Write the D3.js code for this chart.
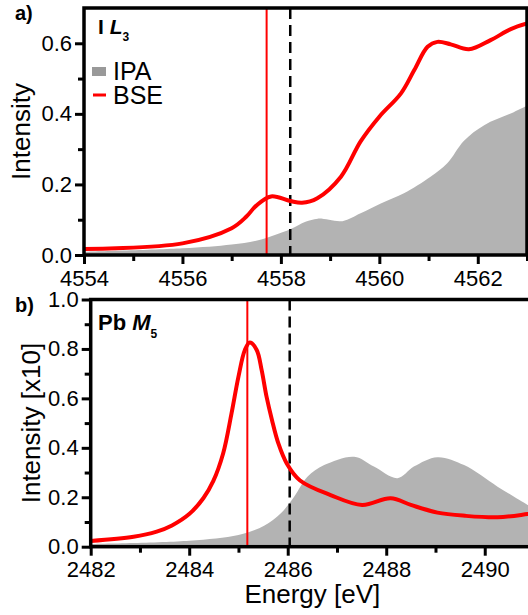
<!DOCTYPE html>
<html>
<head>
<meta charset="utf-8">
<script src="https://cdn.jsdelivr.net/npm/d3@7"></script>
<style>
  body { margin: 0; background: #fff; }
  svg { display: block; font-family: "Liberation Sans", Arial, sans-serif; }
  .tick text { font-size: 22px; fill: #000; }
</style>
</head>
<body>
<svg id="chart"></svg>
<script>
// panel a) I L3
var energyA = [4554, 4556, 4557, 4557.3, 4557.5, 4557.8, 4558.19, 4558.43, 4558.74, 4559.22, 4559.62,
  4560.0, 4560.44, 4560.71, 4560.98, 4561.18, 4561.45, 4561.82, 4562.26, 4562.67, 4563];
var bseA = [0.017, 0.033, 0.076, 0.109, 0.14, 0.166, 0.153, 0.148, 0.161, 0.222, 0.322,
  0.392, 0.458, 0.524, 0.590, 0.604, 0.597, 0.583, 0.609, 0.640, 0.656];
var ipaEnergyA = [4554, 4556, 4557, 4557.54, 4558.19, 4558.5, 4558.75, 4559.25, 4559.62, 4560.03,
  4560.5, 4561.04, 4561.38, 4561.72, 4562.13, 4562.67, 4563];
var ipaA = [0.009, 0.019, 0.03, 0.042, 0.073, 0.094, 0.103, 0.096, 0.118, 0.146,
  0.175, 0.222, 0.260, 0.324, 0.368, 0.401, 0.423];
var xTicksA = [4554, 4556, 4558, 4560, 4562];
var xMinorA = [4555, 4557, 4559, 4561, 4563];
var yTicksA = [0.0, 0.2, 0.4, 0.6];
var yMinorA = [0.1, 0.3, 0.5];
var linesA = { solid: 4557.71, dashed: 4558.19 };

// panel b) Pb M5
var energyB = [2482, 2482.87, 2483.34, 2483.65, 2484.0, 2484.29, 2484.49, 2484.69, 2484.86, 2485.0,
  2485.13, 2485.23, 2485.37, 2485.47, 2485.57, 2485.68, 2485.81, 2485.98, 2486.25, 2486.87,
  2487.51, 2488.09, 2488.5, 2489.04, 2489.6, 2490.26, 2490.87, 2491];
var bseB = [0.023, 0.040, 0.061, 0.086, 0.132, 0.197, 0.266, 0.378, 0.540, 0.688,
  0.796, 0.826, 0.796, 0.715, 0.607, 0.513, 0.418, 0.337, 0.268, 0.209,
  0.169, 0.196, 0.169, 0.138, 0.125, 0.119, 0.132, 0.135];
var ipaEnergyB = [2482, 2484, 2485, 2485.52, 2485.86, 2486.13, 2486.4, 2486.74, 2487.35, 2487.75,
  2488.23, 2488.56, 2489.04, 2489.58, 2490.26, 2490.87, 2491];
var ipaB = [0.011, 0.024, 0.047, 0.085, 0.135, 0.202, 0.283, 0.330, 0.364, 0.324,
  0.277, 0.324, 0.362, 0.330, 0.243, 0.169, 0.155];
var xTicksB = [2482, 2484, 2486, 2488, 2490];
var xMinorB = [2483, 2485, 2487, 2489, 2491];
var yTicksB = [0.0, 0.2, 0.4, 0.6, 0.8, 1.0];
var yMinorB = [0.1, 0.3, 0.5, 0.7, 0.9];
var linesB = { solid: 2485.18, dashed: 2486.04 };

var width = 528, height = 615;
var svg = d3.select("#chart").attr("width", width).attr("height", height);

function zip(xs, ys) {
  return xs.map(function(x, i) { return [x, ys[i]]; });
}

function drawPanel(opt) {
  var x = d3.scaleLinear().domain(opt.xDomain).range([opt.left, opt.right]);
  var y = d3.scaleLinear().domain(opt.yDomain).range([opt.bottom, opt.top]);
  var g = svg.append("g");

  g.append("clipPath").attr("id", opt.id + "clip")
    .append("rect")
    .attr("x", opt.left).attr("y", opt.top)
    .attr("width", opt.right - opt.left).attr("height", opt.bottom - opt.top);

  var plot = g.append("g").attr("clip-path", "url(#" + opt.id + "clip)");

  var area = d3.area()
    .x(function(d) { return x(d[0]); })
    .y0(y(0))
    .y1(function(d) { return y(d[1]); })
    .curve(d3.curveCatmullRom);
  plot.append("path")
    .attr("d", area(zip(opt.ipaX, opt.ipa)))
    .attr("fill", "#b3b3b3");

  plot.append("line")
    .attr("x1", x(opt.lines.solid)).attr("x2", x(opt.lines.solid))
    .attr("y1", opt.top).attr("y2", opt.bottom)
    .attr("stroke", "#ff0000").attr("stroke-width", 2);
  plot.append("line")
    .attr("x1", x(opt.lines.dashed)).attr("x2", x(opt.lines.dashed))
    .attr("y1", opt.top).attr("y2", opt.bottom)
    .attr("stroke", "#000").attr("stroke-width", 2.5)
    .attr("stroke-dasharray", "11,6");

  var line = d3.line()
    .x(function(d) { return x(d[0]); })
    .y(function(d) { return y(d[1]); })
    .curve(d3.curveCatmullRom);
  plot.append("path")
    .attr("d", line(zip(opt.bseX, opt.bse)))
    .attr("fill", "none")
    .attr("stroke", "#ff0000")
    .attr("stroke-width", 4);

  // axes
  g.append("g").attr("transform", "translate(0," + opt.bottom + ")")
    .call(d3.axisBottom(x).tickValues(opt.xTicks).tickSize(9).tickPadding(6).tickFormat(d3.format("d")));
  g.append("g").attr("transform", "translate(0," + opt.bottom + ")")
    .call(d3.axisBottom(x).tickValues(opt.xMinor).tickSize(6).tickFormat(""));
  g.append("g").attr("transform", "translate(" + opt.left + ",0)")
    .call(d3.axisLeft(y).tickValues(opt.yTicks).tickSize(9).tickPadding(3).tickFormat(d3.format(".1f")));
  g.append("g").attr("transform", "translate(" + opt.left + ",0)")
    .call(d3.axisLeft(y).tickValues(opt.yMinor).tickSize(6).tickFormat(""));
  g.selectAll(".domain").remove();
  g.selectAll(".tick line").attr("stroke", "#000").attr("stroke-width", 3);
  g.selectAll(".tick text").style("font-size", "22px");

  // frame
  g.append("rect")
    .attr("x", opt.left).attr("y", opt.top)
    .attr("width", opt.right - opt.left).attr("height", opt.bottom - opt.top)
    .attr("fill", "none").attr("stroke", "#000").attr("stroke-width", 3.5);

  g.append("text")
    .attr("transform", "translate(" + opt.yTitleX + "," + ((opt.top + opt.bottom) / 2) + ") rotate(-90)")
    .attr("text-anchor", "middle")
    .style("font-size", "26px")
    .text(opt.yTitle);

  g.append("text")
    .attr("x", 15).attr("y", opt.top + 12)
    .style("font-size", "20px").style("font-weight", "bold")
    .text(opt.tag);

  return { x: x, y: y, g: g };
}

var a = drawPanel({
  id: "a", xDomain: [4554, 4563], yDomain: [0, 0.7],
  left: 84, right: 527, top: 8, bottom: 255,
  bseX: energyA, bse: bseA, ipaX: ipaEnergyA, ipa: ipaA,
  xTicks: xTicksA, xMinor: xMinorA, yTicks: yTicksA, yMinor: yMinorA,
  lines: linesA, yTitle: "Intensity", yTitleX: 30, tag: "a)"
});

var b = drawPanel({
  id: "b", xDomain: [2482, 2491], yDomain: [0, 1.0],
  left: 90.7, right: 534, top: 299.5, bottom: 546.7,
  bseX: energyB, bse: bseB, ipaX: ipaEnergyB, ipa: ipaB,
  xTicks: xTicksB, xMinor: xMinorB, yTicks: yTicksB, yMinor: yMinorB,
  lines: linesB, yTitle: "Intensity [x10]", yTitleX: 40, tag: "b)"
});

// edge labels
var labA = a.g.append("text").attr("x", 98).attr("y", 34)
  .style("font-size", "21px").style("font-weight", "bold");
labA.append("tspan").text("I ");
labA.append("tspan").style("font-style", "italic").text("L");
labA.append("tspan").attr("dy", 7).style("font-size", "12px").text("3");

var labB = b.g.append("text").attr("x", 98).attr("y", 330)
  .style("font-size", "22px").style("font-weight", "bold");
labB.append("tspan").text("Pb ");
labB.append("tspan").style("font-style", "italic").text("M");
labB.append("tspan").attr("dy", 8).style("font-size", "12px").text("5");

// legend
var legend = a.g.append("g");
legend.append("rect").attr("x", 92).attr("y", 67).attr("width", 14).attr("height", 9).attr("fill", "#999");
legend.append("line").attr("x1", 93).attr("x2", 106).attr("y1", 95).attr("y2", 95)
  .attr("stroke", "#ff0000").attr("stroke-width", 3);
legend.append("text").attr("x", 113).attr("y", 80).style("font-size", "25px").text("IPA");
legend.append("text").attr("x", 113).attr("y", 104).style("font-size", "25px").text("BSE");

// x title
svg.append("text")
  .attr("x", (90.7 + 534) / 2).attr("y", 603)
  .attr("text-anchor", "middle")
  .style("font-size", "26px")
  .text("Energy [eV]");
</script>
</body>
</html>
